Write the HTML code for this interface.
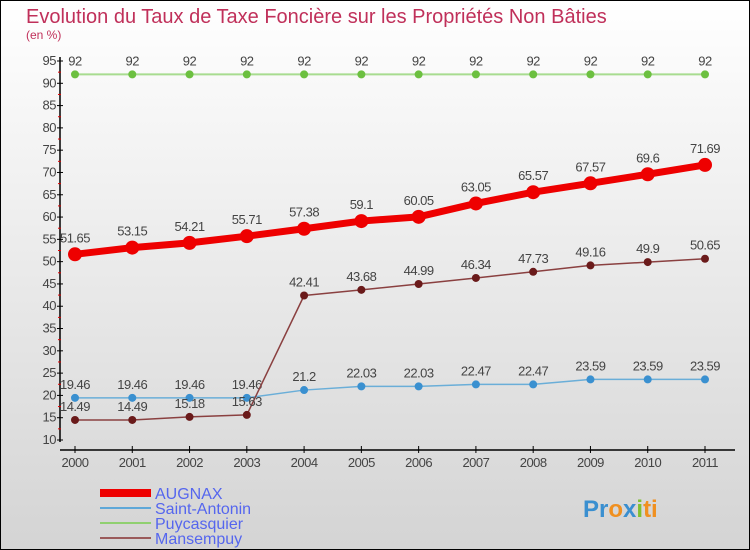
<!DOCTYPE html>
<html><head><meta charset="utf-8"><style>
body{margin:0;width:750px;height:550px;overflow:hidden;font-family:"Liberation Sans","DejaVu Sans",sans-serif}
svg{display:block}
</style></head><body>
<svg width="750" height="550" viewBox="0 0 750 550">
<defs><linearGradient id="bg" x1="0" y1="0" x2="0" y2="1"><stop offset="0" stop-color="#ffffff"/><stop offset="1" stop-color="#d4d4d4"/></linearGradient></defs>
<rect x="0.5" y="0.5" width="749" height="549" fill="url(#bg)" stroke="#000"/>
<text x="26" y="23" font-size="20" fill="#c0305a">Evolution du Taux de Taxe Foncière sur les Propriétés Non Bâties</text>
<text x="26" y="39" font-size="12" fill="#c0305a">(en %)</text>
<g id="axes"></g><g id="series"></g>
<g>
<rect x="100" y="489" width="51" height="8" fill="#e00"/>
<text x="155" y="499" font-size="16" fill="#5566ee">AUGNAX</text>
<line x1="100" y1="508" x2="151" y2="508" stroke="#5fa8d8" stroke-width="2"/>
<text x="155" y="514" font-size="16" fill="#5566ee">Saint-Antonin</text>
<line x1="100" y1="523" x2="151" y2="523" stroke="#90d070" stroke-width="2"/>
<text x="155" y="529" font-size="16" fill="#5566ee">Puycasquier</text>
<line x1="100" y1="538" x2="151" y2="538" stroke="#9a5a5a" stroke-width="2"/>
<text x="155" y="544" font-size="16" fill="#5566ee">Mansempuy</text>
</g>
<g font-size="24" font-weight="bold">
<text x="583" y="517"><tspan fill="#3a8fd0">Pr</tspan><tspan fill="#f09020">o</tspan><tspan fill="#3a8fd0">x</tspan><tspan fill="#80c030">i</tspan><tspan fill="#f09020">ti</tspan></text>
</g>
</svg>
<script>
const years=["2000","2001","2002","2003","2004","2005","2006","2007","2008","2009","2010","2011"];
const yTicks=[10,15,20,25,30,35,40,45,50,55,60,65,70,75,80,85,90,95];
const augnax=[51.65,53.15,54.21,55.71,57.38,59.1,60.05,63.05,65.57,67.57,69.6,71.69];
const saintAntonin=[19.46,19.46,19.46,19.46,21.2,22.03,22.03,22.47,22.47,23.59,23.59,23.59];
const puycasquier=[92,92,92,92,92,92,92,92,92,92,92,92];
const mansempuy=[14.49,14.49,15.18,15.63,42.41,43.68,44.99,46.34,47.73,49.16,49.9,50.65];
const NS="http://www.w3.org/2000/svg";
const X=i=>75+i*(630/11);
const Y=v=>440-(v-10)*(379/85);
function mk(tag,attrs,parent,txt){const e=document.createElementNS(NS,tag);for(const k in attrs)e.setAttribute(k,attrs[k]);if(txt!==undefined)e.textContent=txt;parent.appendChild(e);return e;}
const ax=document.getElementById('axes');
let a=mk('line',{x1:60,y1:Y(95)-4,x2:60,y2:Y(10)+2,stroke:'#000','stroke-width':1.5},ax);


a=mk('line',{x1:60,y1:450,x2:735,y2:450,stroke:'#000','stroke-width':1.5},ax);


yTicks.forEach((t,i)=>{
 mk('line',{x1:57,y1:Y(t),x2:63,y2:Y(t),stroke:'#000'},ax);
 if(i<yTicks.length-1) mk('line',{x1:58,y1:Y(t+2.5),x2:61,y2:Y(t+2.5),stroke:'#d00'},ax);
 const l=mk('text',{x:56,y:Y(t)+4,'font-size':13,'text-anchor':'end',fill:'#444','letter-spacing':'-0.5'},ax,String(t));
 
 
});
years.forEach((y,i)=>{
 mk('line',{x1:X(i),y1:446,x2:X(i),y2:453,stroke:'#000'},ax);
 const l=mk('text',{x:X(i),y:467,'font-size':13,'text-anchor':'middle',fill:'#444','letter-spacing':'-0.5'},ax,y);
 
 
});
const sg=document.getElementById('series');
function series(name,data,color,w,r,dot,labOff){
 const g=mk('g',{},sg);
 
 
 const pl=mk('polyline',{points:data.map((v,i)=>X(i)+','+Y(v)).join(' '),fill:'none',stroke:color,'stroke-width':w,'stroke-linejoin':'round'},g);
 
 
 data.forEach((v,i)=>{
  const c=mk('circle',{cx:X(i),cy:Y(v),r:r,fill:dot},g);
  
  
  const t=mk('text',{x:X(i),y:Y(v)+labOff,'font-size':13,'text-anchor':'middle',fill:'#444','letter-spacing':'-0.5'},g,String(v));
  
  
 });
}
series('puycasquier',puycasquier,'#a8dc90',2,4,'#6cc040',-9);
series('saint-antonin',saintAntonin,'#6aaed8',1.5,4,'#3a90d0',-9);
series('mansempuy',mansempuy,'#8a4040',1.5,4,'#6a1a1a',-9);
series('augnax',augnax,'#ee0000',7,7,'#ee0000',-12);
</script>
</body></html>
